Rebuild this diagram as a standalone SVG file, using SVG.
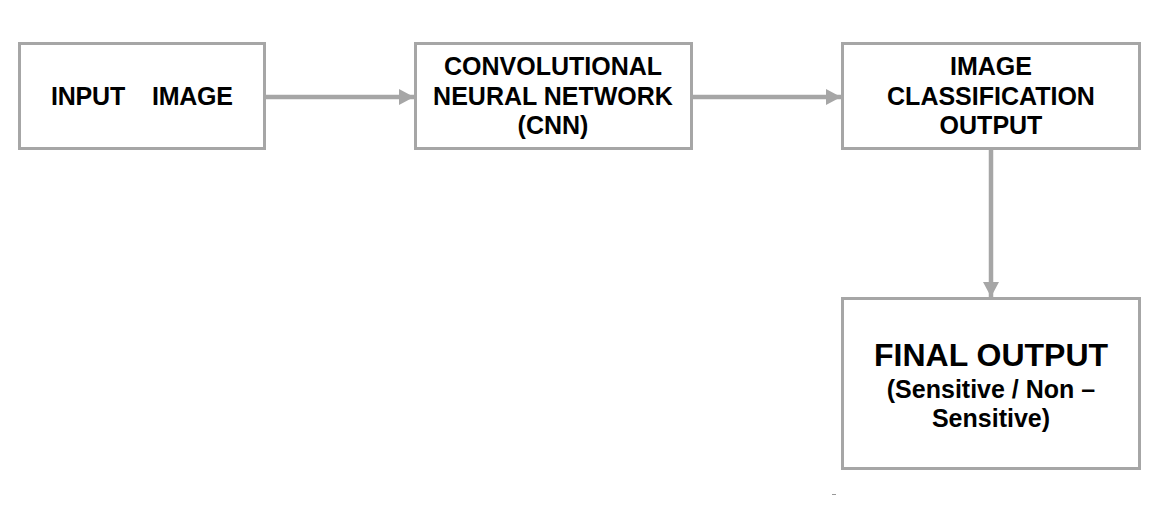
<svg xmlns="http://www.w3.org/2000/svg" width="1176" height="515" viewBox="0 0 1176 515">
<style>
.box{fill:#fff;stroke:#a6a6a6;stroke-width:3}
.t{font-family:"Liberation Sans",Arial,sans-serif;font-weight:bold;font-size:25px;fill:#000;text-anchor:middle}
.big{font-size:32px}
.mid{font-size:25px}
.conn{stroke:#a6a6a6;stroke-width:4.5;fill:none}
</style>
<defs>
<marker id="ah" markerWidth="16" markerHeight="18" refX="15" refY="9" orient="auto" markerUnits="userSpaceOnUse">
<path d="M0,1 L15,9 L0,17 Z" fill="#a6a6a6"/>
</marker>
</defs>
<rect width="1176" height="515" fill="#fff"/>
<g id="connectors">
<line class="conn" x1="265" y1="97" x2="414" y2="97" marker-end="url(#ah)"/>
<line class="conn" x1="692" y1="97" x2="841" y2="97" marker-end="url(#ah)"/>
<line class="conn" x1="991" y1="146" x2="991" y2="297" marker-end="url(#ah)"/>
</g>
<g id="input-image">
<rect class="box" x="19.5" y="43.5" width="245" height="105"/>
<text class="t" x="142" y="105" style="white-space:pre" textLength="182">INPUT    IMAGE</text>
</g>
<g id="cnn">
<rect class="box" x="415.5" y="43.5" width="276" height="105"/>
<text class="t" x="553" y="75">CONVOLUTIONAL</text>
<text class="t" x="553" y="105">NEURAL NETWORK</text>
<text class="t" x="553" y="134">(CNN)</text>
</g>
<g id="classification">
<rect class="box" x="842.5" y="43.5" width="297" height="105"/>
<text class="t" x="991" y="75">IMAGE</text>
<text class="t" x="991" y="105">CLASSIFICATION</text>
<text class="t" x="991" y="134">OUTPUT</text>
</g>
<g id="final-output">
<rect class="box" x="842.5" y="298.5" width="297" height="170"/>
<text class="t big" x="991" y="366">FINAL OUTPUT</text>
<text class="t mid" x="991" y="398">(Sensitive / Non –</text>
<text class="t mid" x="991" y="427">Sensitive)</text>
</g>
<line x1="832" y1="494.5" x2="836" y2="494.5" stroke="#999" stroke-width="1"/>
</svg>
